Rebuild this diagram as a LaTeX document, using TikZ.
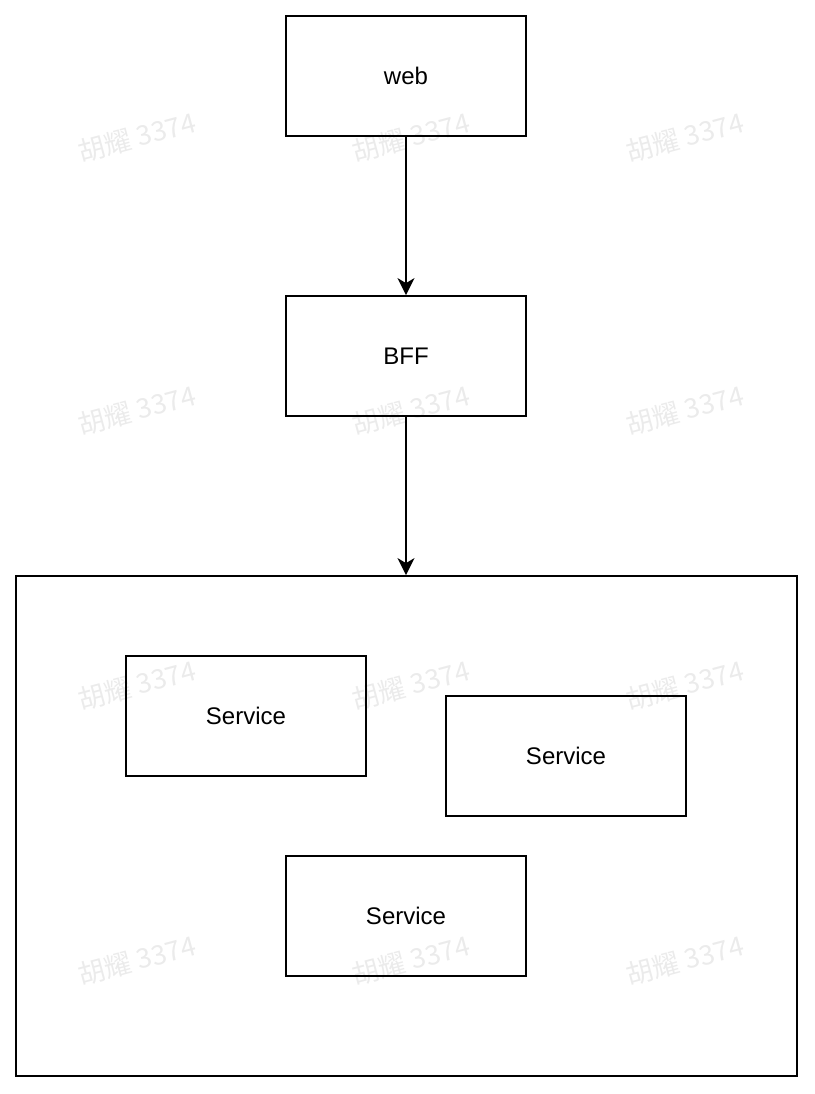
\documentclass[tikz,border=0pt]{standalone}
\usepackage{fontspec}
\setmainfont{Liberation Sans}
\newfontfamily\cjkfont{Noto Sans CJK SC}
\usetikzlibrary{arrows.meta}
\definecolor{wmgray}{HTML}{EBEBEB}
\tikzset{
  box/.style={draw=black, line width=1.8pt, minimum width=240pt, minimum height=120pt,
    inner sep=0pt, font=\fontsize{24}{28}\selectfont},
  frame/.style={draw=black, line width=1.8pt},
  flow/.style={line width=1.8pt, -{Stealth[length=17pt,width=17pt,inset=5pt]}},
  wm/.style={text=wmgray, rotate=15, font=\cjkfont\fontsize{27}{30}\selectfont}
}
\begin{document}
\begin{tikzpicture}[x=1pt, y=-1pt]
  \useasboundingbox (0,0) rectangle (814,1094);
  % watermark grid
  \foreach \wx/\wy [count=\i] in {137/137,411/137,685/137,137/410,411/410,685/410,
      137/685,411/685,685/685,137/960,411/960,685/960} {
    \node[wm] (wm\i) at (\wx,\wy) {胡耀 3374};
  }
  % main flow
  \node[box] (web) at (406,76) {web};
  \node[box] (bff) at (406,356) {BFF};
  \node[frame, minimum width=781pt, minimum height=500pt, inner sep=0pt] (svc) at (406.5,826) {};
  \node[box] (s1) at (246,716) {Service};
  \node[box] (s2) at (566,756) {Service};
  \node[box] (s3) at (406,916) {Service};
  \draw[flow] (web.south) -- (bff.north);
  \draw[flow] (bff.south) -- (bff.south |- svc.north);
\end{tikzpicture}
\end{document}
